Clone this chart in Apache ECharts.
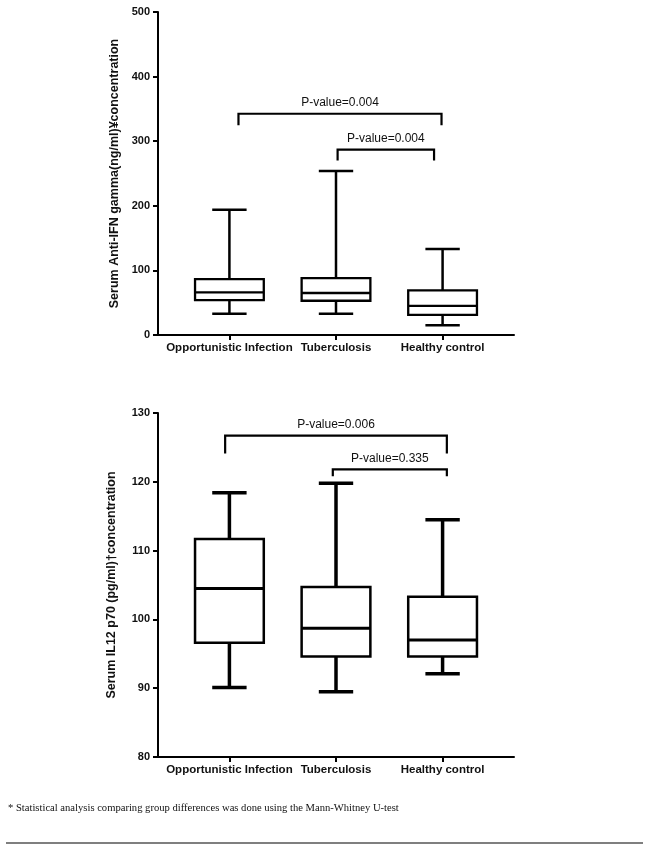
<!DOCTYPE html>
<html>
<head>
<meta charset="utf-8">
<script src="https://cdn.jsdelivr.net/npm/echarts@6/dist/echarts.min.js"></script>
<style>
html, body { margin: 0; padding: 0; background: #fff; }
#chart { width: 650px; height: 848px; }
</style>
</head>
<body>
<div id="chart"></div>
<script>
// Groups on the x axis
const groups = ['Opportunistic Infection', 'Tuberculosis', 'Healthy control'];
const groupPos = [0, 1, 2];

// Box values per group: [min, q1, median, q3, max]
const ifnBoxes = [
    [33, 54, 66, 86.5, 194],
    [33, 53, 65, 88, 254],
    [15, 31, 45, 69, 133]
];
const il12Boxes = [
    [90.1, 96.6, 104.5, 111.7, 118.4],
    [89.5, 94.6, 98.7, 104.7, 119.8],
    [92.1, 94.6, 97.0, 103.3, 114.5]
];

// Significance brackets: [xStart, xEnd, barValue, legValue]
const ifnBrackets = [
    [0.085, 1.99, 342.5, 324.5],
    [1.015, 1.92, 287, 270]
];
const ifnPLabels = ['P-value=0.004', 'P-value=0.004'];
const il12Brackets = [
    [-0.04, 2.04, 126.7, 124.1],
    [0.97, 2.04, 121.8, 120.8]
];
const il12PLabels = ['P-value=0.006', 'P-value=0.335'];

// Y axis ticks
const ifnTicks = { min: 0, max: 500, interval: 100 };
const il12Ticks = { min: 80, max: 130, interval: 10 };

const chartDom = document.getElementById('chart');
const myChart = echarts.init(chartDom, null, { renderer: 'canvas' });

function boxRenderer(lw) {
    return function (params, api) {
        const x = api.value(0);
        const pMin = api.coord([x, api.value(1)]);
        const pQ1 = api.coord([x, api.value(2)]);
        const pMed = api.coord([x, api.value(3)]);
        const pQ3 = api.coord([x, api.value(4)]);
        const pMax = api.coord([x, api.value(5)]);
        const boxW = api.size([0.645, 0])[0];
        const capW = boxW / 2;
        const cx = pMed[0];
        const line = (x1, y1, x2, y2, w) => ({
            type: 'line',
            shape: { x1: x1, y1: y1, x2: x2, y2: y2 },
            style: { stroke: '#000', lineWidth: w }
        });
        return {
            type: 'group',
            children: [
                line(cx, pMax[1], cx, pQ3[1], lw.whisker),
                line(cx, pQ1[1], cx, pMin[1], lw.whisker),
                line(cx - capW / 2, pMax[1], cx + capW / 2, pMax[1], lw.whisker),
                line(cx - capW / 2, pMin[1], cx + capW / 2, pMin[1], lw.whisker),
                {
                    type: 'rect',
                    shape: { x: cx - boxW / 2, y: pQ3[1], width: boxW, height: pQ1[1] - pQ3[1] },
                    style: { fill: '#fff', stroke: '#000', lineWidth: lw.box }
                },
                line(cx - boxW / 2, pMed[1], cx + boxW / 2, pMed[1], lw.median)
            ]
        };
    };
}

function bracketRenderer(labels) {
    return function (params, api) {
        const a = api.coord([api.value(0), api.value(3)]);
        const b = api.coord([api.value(0), api.value(2)]);
        const c = api.coord([api.value(1), api.value(2)]);
        const d = api.coord([api.value(1), api.value(3)]);
        return {
            type: 'group',
            children: [
                {
                    type: 'polyline',
                    shape: { points: [a, b, c, d] },
                    style: { stroke: '#000', lineWidth: 2.2, fill: null }
                },
                {
                    type: 'text',
                    style: {
                        text: labels[params.dataIndex],
                        x: (b[0] + c[0]) / 2,
                        y: b[1] - 5,
                        align: 'center',
                        verticalAlign: 'bottom',
                        font: '12px "Liberation Sans", Arial, sans-serif',
                        fill: '#111'
                    }
                }
            ]
        };
    };
}

function xAxisFor(gridIndex) {
    return {
        type: 'value',
        gridIndex: gridIndex,
        min: -0.67,
        max: 2.67,
        splitLine: { show: false },
        axisLine: { show: true, onZero: false, lineStyle: { color: '#000', width: 2 } },
        axisTick: { show: true, customValues: groupPos, length: 5, lineStyle: { color: '#000', width: 2 } },
        axisLabel: {
            customValues: groupPos,
            formatter: v => groups[Math.round(v)],
            margin: 7,
            color: '#111',
            fontFamily: '"Liberation Sans", Arial, sans-serif',
            fontWeight: 'bold',
            fontSize: 11.5
        }
    };
}

function yAxisFor(gridIndex, ticks, name, nameGap) {
    return {
        type: 'value',
        gridIndex: gridIndex,
        min: ticks.min,
        max: ticks.max,
        interval: ticks.interval,
        name: name,
        nameLocation: 'middle',
        nameRotate: 90,
        nameGap: nameGap,
        nameTextStyle: {
            color: '#111',
            fontFamily: '"Liberation Sans", Arial, sans-serif',
            fontWeight: 'bold',
            fontSize: 12.5
        },
        splitLine: { show: false },
        axisLine: { show: true, onZero: false, lineStyle: { color: '#000', width: 2 } },
        axisTick: { show: true, length: 5, lineStyle: { color: '#000', width: 2 } },
        axisLabel: {
            margin: 8,
            color: '#111',
            fontFamily: '"Liberation Sans", Arial, sans-serif',
            fontWeight: 'bold',
            fontSize: 11
        }
    };
}

const option = {
    backgroundColor: '#fff',
    animation: false,
    grid: [
        { left: 158, top: 12, width: 356, height: 323 },
        { left: 158, top: 413, width: 356, height: 344 }
    ],
    xAxis: [xAxisFor(0), xAxisFor(1)],
    yAxis: [
        yAxisFor(0, ifnTicks, 'Serum Anti-IFN gamma(ng/ml)\u00a5concentration', 36),
        yAxisFor(1, il12Ticks, 'Serum IL12 p70 (pg/ml)\u2020concentration', 40)
    ],
    graphic: [
        {
            type: 'text',
            left: 8,
            top: 803,
            style: {
                text: '* Statistical analysis comparing group differences was done using the Mann-Whitney U-test',
                font: '10.6px "Liberation Serif", serif',
                fill: '#111'
            }
        },
        {
            type: 'line',
            shape: { x1: 6, y1: 843, x2: 643, y2: 843 },
            style: { stroke: '#555', lineWidth: 1.5 }
        }
    ],
    series: [
        {
            type: 'custom',
            xAxisIndex: 0,
            yAxisIndex: 0,
            clip: false,
            renderItem: boxRenderer({ whisker: 2.5, box: 2.3, median: 2.3 }),
            encode: { x: 0, y: [1, 2, 3, 4, 5] },
            data: ifnBoxes.map((b, i) => [groupPos[i]].concat(b))
        },
        {
            type: 'custom',
            xAxisIndex: 0,
            yAxisIndex: 0,
            clip: false,
            renderItem: bracketRenderer(ifnPLabels),
            encode: { x: [0, 1], y: [2, 3] },
            data: ifnBrackets
        },
        {
            type: 'custom',
            xAxisIndex: 1,
            yAxisIndex: 1,
            clip: false,
            renderItem: boxRenderer({ whisker: 3.5, box: 2.5, median: 3 }),
            encode: { x: 0, y: [1, 2, 3, 4, 5] },
            data: il12Boxes.map((b, i) => [groupPos[i]].concat(b))
        },
        {
            type: 'custom',
            xAxisIndex: 1,
            yAxisIndex: 1,
            clip: false,
            renderItem: bracketRenderer(il12PLabels),
            encode: { x: [0, 1], y: [2, 3] },
            data: il12Brackets
        }
    ]
};

myChart.setOption(option);
window.addEventListener('resize', () => myChart.resize());
</script>
</body>
</html>
